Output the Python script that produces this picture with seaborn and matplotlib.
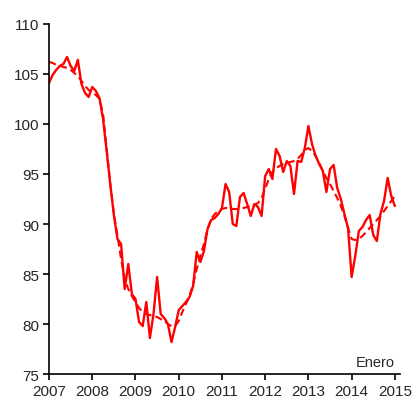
import numpy as np
import pandas as pd
import matplotlib.pyplot as plt
import seaborn as sns

# Monthly index, January 2007 to January 2015
start_year = 2007
monthly = [
    104.1, 104.9, 105.4, 105.8, 106.0, 106.7, 105.8, 105.3, 106.4, 104.0, 103.1, 102.7,
    103.7, 103.3, 102.6, 100.5, 97.3, 94.0, 90.9, 88.5, 88.0, 83.5, 86.0, 83.0,
    82.5, 80.2, 79.8, 82.2, 78.6, 81.0, 84.7, 81.0, 80.6, 80.0, 78.2, 79.7,
    81.4, 81.8, 82.2, 82.7, 83.8, 87.2, 86.2, 87.3, 89.5, 90.4, 90.6, 91.0,
    91.6, 94.0, 93.2, 90.0, 89.8, 92.7, 93.1, 92.0, 90.8, 92.0, 91.7, 90.8,
    94.8, 95.5, 94.5, 97.5, 96.8, 95.2, 96.3, 95.8, 93.0, 96.3, 96.2, 97.6,
    99.8, 98.0, 96.8, 96.0, 95.3, 93.2, 95.5, 95.9, 93.6, 92.5, 91.0, 89.6,
    84.7, 86.8, 89.3, 89.7, 90.4, 90.9, 88.9, 88.3, 91.0, 92.3, 94.6, 92.8,
    91.8,
]
trend = [
    106.2, 106.1, 105.9, 105.8, 105.7, 105.6, 105.4, 105.1, 104.8, 104.3, 103.8, 103.4,
    103.1, 102.9, 102.5, 101.0, 97.5, 94.0, 91.0, 88.8, 86.5, 84.5, 83.5, 82.8,
    82.2, 81.6, 81.2, 81.0, 80.9, 80.8, 80.7, 80.5, 80.3, 80.0, 79.8, 79.8,
    80.3, 81.2, 82.0, 82.8, 84.0, 85.5, 86.8, 88.0, 89.5, 90.5, 91.0, 91.3,
    91.5, 91.6, 91.6, 91.5, 91.5, 91.5, 91.6, 91.7, 91.8, 91.9, 92.1, 92.6,
    93.5, 94.5, 95.2, 95.6, 95.8, 96.0, 96.1, 96.2, 96.3, 96.5, 96.9, 97.4,
    97.6, 97.3, 96.8, 96.1, 95.3, 94.6, 94.0, 93.3, 92.6, 91.8, 90.8, 89.6,
    88.5, 88.4, 88.5, 88.8, 89.2, 89.6, 90.0, 90.4, 90.8, 91.3, 91.8, 92.3,
    92.8,
]
year_ticks = list(range(2007, 2016))
y_ticks = list(range(75, 111, 5))

t = start_year + np.arange(len(monthly)) / 12
df = pd.DataFrame({"t": t, "monthly": monthly, "trend": trend})

sns.set_style("white")
plt.rcParams["font.family"] = ["Liberation Sans", "DejaVu Sans"]

fig = plt.figure(figsize=(4.12, 4.02), dpi=100)
ax = fig.add_axes([0.119, 0.067, 0.852, 0.871])

sns.lineplot(data=df, x="t", y="monthly", ax=ax, color="#ff0000", linewidth=1.7)
sns.lineplot(data=df, x="t", y="trend", ax=ax, color="#ff0000", linewidth=1.5,
             linestyle=(0, (3.5, 2)))

ax.set_xlim(2007, 2015.12)
ax.set_ylim(75, 110)
ax.set_xticks(year_ticks)
ax.set_xticklabels([str(y) for y in year_ticks])
ax.set_yticks(y_ticks)
ax.set_xlabel("")
ax.set_ylabel("")

sns.despine(ax=ax, top=True, right=True)
for s in ["left", "bottom"]:
    ax.spines[s].set_color("black")
    ax.spines[s].set_linewidth(1.2)
ax.tick_params(axis="both", which="major", bottom=True, left=True,
               direction="out", length=4, width=1.2,
               color="black", labelsize=11, pad=3)

ax.text(0.985, 0.015, "Enero", transform=ax.transAxes, ha="right", va="bottom",
        fontsize=10.5)

fig.savefig("out.png", dpi=100)
